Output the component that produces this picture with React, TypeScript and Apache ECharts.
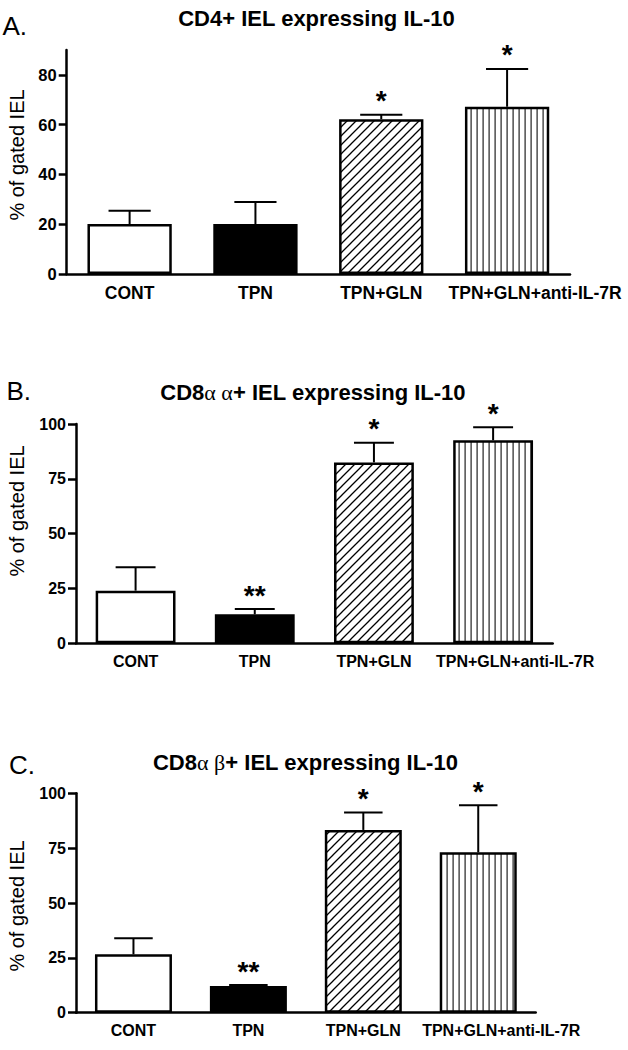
import React, { useEffect, useRef } from 'react';
import * as echarts from 'echarts';

// ---- data ----
const categories = ['CONT', 'TPN', 'TPN+GLN', 'TPN+GLN+anti-IL-7R'];

const cd4Means = [20.1, 20.1, 62.2, 67.2];
const cd4Sem = [5.3, 8.8, 1.8, 15.2];
const cd4Sig = ['', '', '*', '*'];

const cd8aaMeans = [24.0, 13.2, 82.5, 92.6];
const cd8aaSem = [10.7, 2.4, 9.0, 5.9];
const cd8aaSig = ['', '**', '*', '*'];

const cd8abMeans = [26.6, 12.2, 83.3, 73.1];
const cd8abSem = [7.3, 0.4, 8.0, 21.4];
const cd8abSig = ['', '**', '*', '*'];

const yTicksA = [0, 20, 40, 60, 80];
const yTicksBC = [0, 25, 50, 75, 100];

const SANS = "'Liberation Sans', Arial, Helvetica, sans-serif";
const SERIF = "'Liberation Serif', 'Times New Roman', serif";

function diagPattern() {
  const c = document.createElement('canvas');
  c.width = 9;
  c.height = 9;
  const g = c.getContext('2d')!;
  g.fillStyle = '#fff';
  g.fillRect(0, 0, 9, 9);
  g.strokeStyle = '#000';
  g.lineWidth = 1.3;
  g.beginPath();
  g.moveTo(-1, 10);
  g.lineTo(10, -1);
  g.moveTo(-1, 1);
  g.lineTo(1, -1);
  g.moveTo(8, 10);
  g.lineTo(10, 8);
  g.stroke();
  return c;
}

function vertPattern() {
  const c = document.createElement('canvas');
  c.width = 6;
  c.height = 6;
  const g = c.getContext('2d')!;
  g.fillStyle = '#fff';
  g.fillRect(0, 0, 6, 6);
  g.fillStyle = '#222';
  g.fillRect(2.5, 0, 1.2, 6);
  return c;
}

type PanelCfg = {
  means: number[];
  sem: number[];
  sig: string[];
  yMax: number;
  yInterval: number;
  ticks: number[];
  grid: { left: number; top: number; width: number; height: number };
  labelSize: number;
  yLabelSize: number;
  lastShift: number;
};

export default function App() {
  const ref = useRef<HTMLDivElement>(null);

  useEffect(() => {
    document.body.style.margin = '0';
    if (!ref.current) return;
    const chart = echarts.init(ref.current, undefined, { renderer: 'svg' });

    const fills: any[] = [
      '#ffffff',
      '#000000',
      { image: diagPattern(), repeat: 'repeat' },
      { image: vertPattern(), repeat: 'repeat' },
    ];

    const panels: PanelCfg[] = [
      {
        means: cd4Means, sem: cd4Sem, sig: cd4Sig, yMax: 90, yInterval: 20, ticks: yTicksA,
        grid: { left: 66.7, top: 50, width: 503.3, height: 224 },
        labelSize: 17.5, yLabelSize: 16.5, lastShift: 28,
      },
      {
        means: cd8aaMeans, sem: cd8aaSem, sig: cd8aaSig, yMax: 100, yInterval: 25, ticks: yTicksBC,
        grid: { left: 76, top: 424, width: 476.7, height: 219.3 },
        labelSize: 16, yLabelSize: 16, lastShift: 22,
      },
      {
        means: cd8abMeans, sem: cd8abSem, sig: cd8abSig, yMax: 100, yInterval: 25, ticks: yTicksBC,
        grid: { left: 76, top: 793.3, width: 459.7, height: 219.4 },
        labelSize: 16, yLabelSize: 16, lastShift: 23,
      },
    ];

    const grid: any[] = [];
    const xAxis: any[] = [];
    const yAxis: any[] = [];
    const series: any[] = [];

    panels.forEach((p, k) => {
      grid.push({ ...p.grid, containLabel: false });
      xAxis.push({
        type: 'category',
        gridIndex: k,
        data: categories.map((c, i) =>
          i === categories.length - 1
            ? { value: c, textStyle: { padding: [0, 0, 0, p.lastShift * 2] } }
            : c
        ),
        axisLine: { lineStyle: { color: '#000', width: 2.5 } },
        axisTick: { alignWithLabel: true, length: 8, lineStyle: { color: '#000', width: 2.5 } },
        axisLabel: {
          interval: 0,
          margin: 10,
          color: '#000',
          fontWeight: 'bold',
          fontSize: p.labelSize,
          fontFamily: SANS,
        },
        splitLine: { show: false },
      });
      yAxis.push({
        type: 'value',
        gridIndex: k,
        min: 0,
        max: p.yMax,
        interval: p.yInterval,
        axisLine: { show: true, lineStyle: { color: '#000', width: 2.5 } },
        axisTick: { show: true, length: 8, customValues: p.ticks, lineStyle: { color: '#000', width: 2.5 } },
        axisLabel: {
          customValues: p.ticks,
          margin: 10,
          color: '#000',
          fontWeight: 'bold',
          fontSize: p.yLabelSize,
          fontFamily: SANS,
        },
        splitLine: { show: false },
      });
      series.push({
        type: 'bar',
        xAxisIndex: k,
        yAxisIndex: k,
        barWidth: '67%',
        data: p.means.map((v, i) => ({
          value: v,
          itemStyle: { color: fills[i], borderColor: '#000', borderWidth: 2.5 },
        })),
        silent: true,
      });
      const sig = p.sig;
      series.push({
        type: 'custom',
        xAxisIndex: k,
        yAxisIndex: k,
        silent: true,
        z: 5,
        data: p.means.map((v, i) => [i, v, v + p.sem[i]]),
        renderItem: (params: any, api: any) => {
          const i = api.value(0);
          const m = api.value(1);
          const t = api.value(2);
          const base = api.coord([i, m]);
          const top = api.coord([i, t]);
          const band = api.size([1, 0])[0];
          const half = (band * 0.335) / 2;
          const children: any[] = [
            {
              type: 'line',
              shape: { x1: base[0], y1: base[1], x2: top[0], y2: top[1] },
              style: { stroke: '#000', lineWidth: 2 },
            },
            {
              type: 'line',
              shape: { x1: top[0] - half, y1: top[1], x2: top[0] + half, y2: top[1] },
              style: { stroke: '#000', lineWidth: 2 },
            },
          ];
          const s = sig[params.dataIndex];
          if (s) {
            children.push({
              type: 'text',
              x: top[0],
              y: top[1] - 14,
              style: {
                text: s,
                font: `bold 28px ${SANS}`,
                textAlign: 'center',
                textVerticalAlign: 'middle',
                fill: '#000',
              },
            });
          }
          return { type: 'group', children };
        },
      });
    });

    const titleRich = {
      b: { font: `bold 22px ${SANS}`, fill: '#000' },
      g: { font: `22px ${SERIF}`, fill: '#000' },
    };

    const graphic: any[] = [
      { type: 'text', x: 2.5, y: 26, style: { text: 'A.', font: `26px ${SANS}`, fill: '#000', textAlign: 'left', textVerticalAlign: 'middle' } },
      { type: 'text', x: 6.5, y: 391, style: { text: 'B.', font: `26px ${SANS}`, fill: '#000', textAlign: 'left', textVerticalAlign: 'middle' } },
      { type: 'text', x: 9, y: 765, style: { text: 'C.', font: `26px ${SANS}`, fill: '#000', textAlign: 'left', textVerticalAlign: 'middle' } },
      { type: 'text', x: 316.5, y: 18, style: { text: 'CD4+ IEL expressing IL-10', font: `bold 22px ${SANS}`, fill: '#000', textAlign: 'center', textVerticalAlign: 'middle' } },
      { type: 'text', x: 313, y: 392, style: { text: '{b|CD8}{g|α α}{b|+ IEL expressing IL-10}', rich: titleRich, textAlign: 'center', textVerticalAlign: 'middle' } },
      { type: 'text', x: 305.5, y: 762, style: { text: '{b|CD8}{g|α β}{b|+ IEL expressing IL-10}', rich: titleRich, textAlign: 'center', textVerticalAlign: 'middle' } },
      { type: 'text', x: 17, y: 155, rotation: Math.PI / 2, style: { text: '% of gated IEL', font: `20px ${SANS}`, fill: '#000', textAlign: 'center', textVerticalAlign: 'middle' } },
      { type: 'text', x: 17, y: 511, rotation: Math.PI / 2, style: { text: '% of gated IEL', font: `20px ${SANS}`, fill: '#000', textAlign: 'center', textVerticalAlign: 'middle' } },
      { type: 'text', x: 17, y: 906, rotation: Math.PI / 2, style: { text: '% of gated IEL', font: `20px ${SANS}`, fill: '#000', textAlign: 'center', textVerticalAlign: 'middle' } },
    ];

    chart.setOption({
      animation: false,
      backgroundColor: '#ffffff',
      grid,
      xAxis,
      yAxis,
      series,
      graphic,
    });

    return () => {
      chart.dispose();
    };
  }, []);

  return <div ref={ref} style={{ width: 628, height: 1050 }} />;
}
